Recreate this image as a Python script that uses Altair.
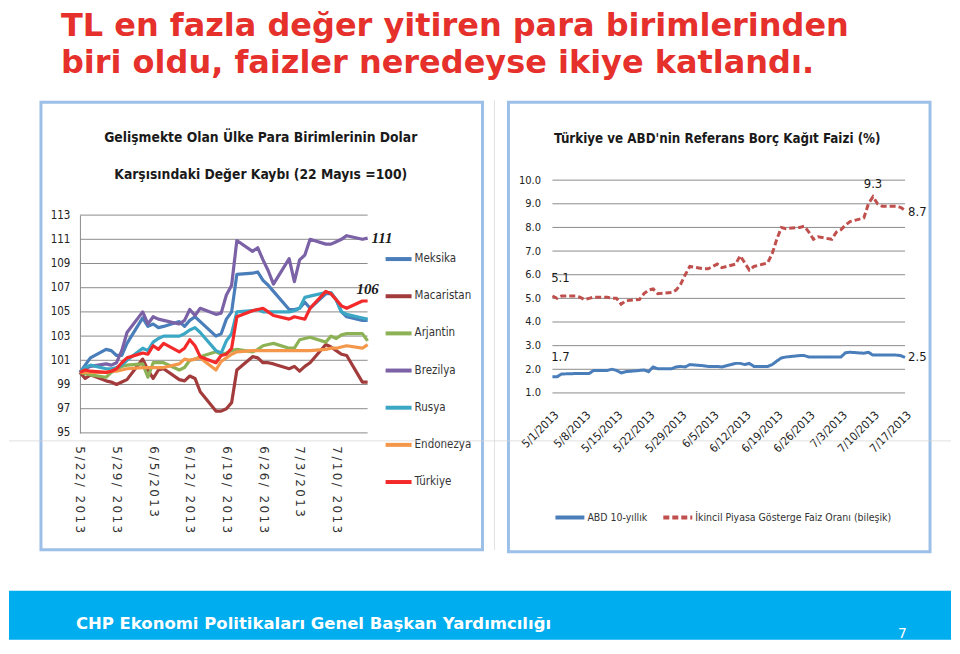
import altair as alt
import pandas as pd

NARROW = "Liberation Sans Narrow, DejaVu Sans Condensed, Arial Narrow, sans-serif"
BOLD_SANS = "DejaVu Sans"

# ---------------- texts ----------------
slide_title = ["TL en fazla değer yitiren para birimlerinden",
               "biri oldu, faizler neredeyse ikiye katlandı."]
footer_text = "CHP Ekonomi Politikaları Genel Başkan Yardımcılığı"
page_no = "7"
left_title = ["Gelişmekte Olan Ülke Para Birimlerinin Dolar",
              "Karşısındaki Değer Kaybı (22 Mayıs =100)"]
right_title = "Türkiye ve ABD'nin Referans Borç Kağıt Faizi (%)"

# ---------------- left chart data ----------------
left_series = ["Meksika", "Macaristan", "Arjantin", "Brezilya", "Rusya", "Endonezya", "Türkiye"]
left_colors = ["#4a7ebb", "#a23b3b", "#8db255", "#7b62a7", "#3ca7c4", "#f4974a", "#f42a2a"]
left_start, left_end = "2013-05-22", "2013-07-16"
left_tick_dates = ["2013-05-22", "2013-05-29", "2013-06-05", "2013-06-12",
                   "2013-06-19", "2013-06-26", "2013-07-03", "2013-07-10"]
left_y_ticks = [95, 97, 99, 101, 103, 105, 107, 109, 111, 113]

meksika = [100.0, 100.6, 101.2, 101.9, 101.8, 101.4, 101.4, 102.4, 104.5, 103.8,
           104.0, 103.7, 103.8, 104.2, 103.8, 104.3, 104.6, 104.2, 103.0, 103.2,
           104.4, 105.0, 108.1, 108.2, 108.3, 107.6, 107.2, 106.7, 105.2, 105.2,
           105.3, 105.8, 105.3, 106.5, 106.5, 106.0, 105.0, 104.6, 104.3, 104.3]
macaristan = [100.0, 99.5, 99.8, 99.3, 99.2, 99.0, 99.2, 99.4, 101.1, 100.2,
              99.5, 100.2, 100.3, 99.4, 99.3, 99.7, 99.5, 98.4, 96.8, 96.8,
              97.0, 97.5, 100.2, 101.3, 101.2, 100.8, 100.8, 100.7, 100.3, 100.5,
              100.1, 100.5, 100.8, 102.3, 102.1, 101.8, 101.5, 101.4, 99.2, 99.2]
arjantin = [100.0, 99.9, 99.8, 99.6, 100.0, 100.2, 100.5, 100.6, 100.7, 99.6,
            100.8, 100.8, 100.8, 100.2, 100.4, 101.0, 101.1, 101.3, 101.7, 101.5,
            101.6, 101.8, 101.9, 101.7, 101.9, 102.2, 102.3, 102.4, 102.0, 102.0,
            102.7, 102.8, 102.9, 102.5, 103.0, 102.8, 103.1, 103.2, 103.2, 102.6]
brezilya = [100.0, 100.3, 100.5, 100.7, 100.6, 100.8, 101.8, 103.3, 105.0, 104.0,
            104.6, 104.4, 104.3, 104.0, 104.3, 105.2, 104.7, 105.3, 104.8, 104.9,
            106.4, 107.2, 110.9, 110.0, 110.3, 109.3, 108.4, 107.3, 109.4, 107.5,
            109.3, 109.7, 111.0, 110.6, 110.6, 110.8, 111.0, 111.3, 111.0, 111.1]
rusya = [100.0, 100.4, 100.6, 100.3, 100.3, 100.4, 100.6, 101.0, 102.0, 101.8,
         102.5, 102.8, 103.0, 103.0, 103.2, 103.5, 103.7, 103.3, 101.8, 101.6,
         102.6, 103.2, 105.0, 105.1, 105.2, 105.0, 105.0, 105.0, 105.0, 105.1,
         105.3, 106.2, 106.3, 106.6, 106.6, 106.0, 105.0, 104.8, 104.5, 104.4]
endonezya = [100.0, 100.0, 100.0, 100.0, 100.1, 100.1, 100.2, 100.3, 100.4, 100.4,
             100.4, 100.4, 100.4, 100.7, 101.1, 101.0, 101.1, 101.2, 100.2, 100.9,
             101.2, 101.5, 101.7, 101.8, 101.8, 101.8, 101.8, 101.8, 101.8, 101.8,
             101.8, 101.8, 101.8, 101.9, 102.0, 102.0, 102.1, 102.2, 102.0, 102.3]
turkiye = [100.0, 100.2, 100.1, 100.0, 100.1, 100.3, 100.8, 101.2, 101.6, 101.5,
           102.2, 101.9, 102.4, 101.7, 102.0, 102.7, 102.2, 101.3, 100.8, 101.4,
           101.5, 102.0, 104.6, 105.1, 105.2, 105.3, 105.0, 104.7, 104.4, 104.6,
           104.5, 104.4, 105.3, 106.7, 106.5, 106.0, 105.5, 105.3, 105.9, 105.9]
left_values = dict(zip(left_series, [meksika, macaristan, arjantin, brezilya,
                                     rusya, endonezya, turkiye]))

# ---------------- right chart data ----------------
right_series = ["ABD 10-yıllık", "İkincil Piyasa Gösterge Faiz Oranı (bileşik)"]
right_colors = ["#4a7ebb", "#c0504d"]
right_dashes = [[1, 0], [6, 3]]
right_start, right_end = "2013-05-01", "2013-07-17"
right_tick_dates = ["2013-05-01", "2013-05-08", "2013-05-15", "2013-05-22", "2013-05-29",
                    "2013-06-05", "2013-06-12", "2013-06-19", "2013-06-26", "2013-07-03",
                    "2013-07-10", "2013-07-17"]
right_y_ticks = [1, 2, 3, 4, 5, 6, 7, 8, 9, 10]
abd = [1.68, 1.68, 1.8, 1.82, 1.82, 1.82, 1.82, 1.95, 1.95, 2.0,
       1.95, 1.85, 1.9, 1.95, 1.97, 1.9, 2.1, 2.02, 2.02, 2.1,
       2.12, 2.1, 2.2, 2.15, 2.12, 2.12, 2.12, 2.1, 2.25, 2.25,
       2.2, 2.25, 2.12, 2.12, 2.2, 2.35, 2.48, 2.52, 2.58, 2.58,
       2.52, 2.52, 2.52, 2.52, 2.52, 2.52, 2.7, 2.72, 2.68, 2.72,
       2.6, 2.6, 2.6, 2.6, 2.58, 2.5]
ikincil = [5.1, 5.0, 5.1, 5.1, 5.05, 4.95, 5.0, 5.05, 5.05, 5.0,
           5.0, 4.75, 4.9, 4.95, 5.2, 5.35, 5.4, 5.2, 5.25, 5.35,
           5.6, 6.0, 6.35, 6.25, 6.25, 6.35, 6.45, 6.3, 6.45, 6.8,
           6.5, 6.2, 6.35, 6.5, 6.9, 7.5, 8.0, 7.95, 8.0, 8.05,
           7.8, 7.5, 7.6, 7.5, 7.8, 7.9, 8.1, 8.25, 8.4, 9.0,
           9.3, 9.0, 8.9, 8.9, 8.85, 8.72]
right_values = dict(zip(right_series, [abd, ikincil]))


def dt(s):
    y, m, d = map(int, s.split("-"))
    return alt.DateTime(year=y, month=m, date=d)


def fmt(d):
    return d.strftime("%Y/%m/%d")


left_dates = pd.bdate_range(left_start, left_end)
right_dates = pd.bdate_range(right_start, right_end)

left_df = pd.DataFrame([{"date": fmt(d), "series": s, "value": v}
                        for s in left_series for d, v in zip(left_dates, left_values[s])])
right_df = pd.DataFrame([{"date": fmt(d), "series": s, "value": v}
                         for s in right_series for d, v in zip(right_dates, right_values[s])])
left_grid_df = pd.DataFrame({"value": [float(v) for v in left_y_ticks]})
right_grid_df = pd.DataFrame({"value": [float(v) for v in right_y_ticks]})

one = pd.DataFrame({"k": [0]})

# ---------------- layout constants (pixels) ----------------
LW, LH = 288, 253
RW, RH = 353, 213
GAP = 185
GRID = "#8c8c8c"
THIN = "\u2009"


def txt(text, x, y, **kw):
    return alt.Chart(one).mark_text(**kw).encode(
        x=alt.value(x), y=alt.value(y), text=alt.value(text))


def box(x, x2, y, y2, **kw):
    return alt.Chart(one).mark_rect(**kw).encode(
        x=alt.value(x), x2=alt.value(x2), y=alt.value(y), y2=alt.value(y2))


# ---------------- left panel ----------------
anchor = box(-71, 872, -172, 460, fill="white", fillOpacity=0)
footer_band = box(-71, 872, 411, 460, fill="#00adef")
footer_lbl = txt(footer_text, -4, 449, align="left", baseline="alphabetic",
                 font=BOLD_SANS, fontWeight="bold", fontSize=16.5, color="white")
page_lbl = txt(page_no, 819, 458, align="left", baseline="alphabetic",
               font=BOLD_SANS, fontSize=14, color="white")
t1 = txt(slide_title[0], -19, -144, align="left", baseline="alphabetic",
         font=BOLD_SANS, fontWeight="bold", fontSize=32, color="#e5302c")
t2 = txt(slide_title[1], -19, -107, align="left", baseline="alphabetic",
         font=BOLD_SANS, fontWeight="bold", fontSize=32, color="#e5302c")
left_box = box(-39, 403, -78, 370, fill="white", fillOpacity=0,
               stroke="#9cc0e8", strokeWidth=3)
lt1 = txt(left_title[0], 181, -42, align="center", baseline="middle",
          font=NARROW, fontWeight="bold", fontSize=13.8, color="#1a1a1a")
lt2 = txt(left_title[1], 181, -5, align="center", baseline="middle",
          font=NARROW, fontWeight="bold", fontSize=13.8, color="#1a1a1a")

left_label_expr = (
    "join(split(timeFormat(datum.value, '%-m/%-d/') + "
    "(length(timeFormat(datum.value, '%-d')) > 1 ? ' ' : '') + "
    "timeFormat(datum.value, '%Y'), ''), '" + THIN + "')"
)
left_x = alt.X("date:T",
               scale=alt.Scale(domain=[dt(left_start), dt(left_end)], nice=False),
               axis=alt.Axis(values=[dt(s) for s in left_tick_dates], tickCount=30,
                             labelExpr=left_label_expr, labelOverlap=False,
                             labelAngle=90, grid=False, domain=False, ticks=False,
                             labelPadding=13, labelFont="DejaVu Sans", labelFontSize=12,
                             labelColor="#333", title=None))
left_y_scale = alt.Scale(domain=[95, 113], range=[LH, 35], nice=False, zero=False)
left_y_axis = alt.Axis(values=left_y_ticks, tickCount=30, format="d",
                       labelOverlap=False, grid=False, domain=True,
                       domainColor=GRID, ticks=False,
                       labelPadding=10, labelFont=NARROW, labelFontSize=11.5,
                       labelColor="#222", title=None)
left_y = alt.Y("value:Q", scale=left_y_scale, axis=left_y_axis)

left_grid = alt.Chart(left_grid_df).mark_rule(color=GRID, strokeWidth=1).encode(
    y=alt.Y("value:Q", scale=left_y_scale, axis=left_y_axis),
    x=alt.value(0), x2=alt.value(LW))

left_lines = alt.Chart(left_df).mark_line(strokeWidth=3.2, strokeJoin="round").encode(
    x=left_x, y=left_y,
    color=alt.Color("series:N", sort=left_series,
                    scale=alt.Scale(domain=left_series, range=left_colors),
                    legend=alt.Legend(title=None, orient="none", legendX=304, legendY=64,
                                      direction="vertical", symbolType="stroke",
                                      symbolSize=676, symbolStrokeWidth=4, rowPadding=14.2,
                                      labelOffset=1, labelFont=NARROW, labelFontSize=11.5,
                                      labelColor="#333", padding=0, labelLimit=200)),
)

last_left = fmt(left_dates[-1])
lab111 = alt.Chart(pd.DataFrame([{"date": last_left, "value": brezilya[-1],
                                  "label": f"{round(brezilya[-1])}"}])).mark_text(
    align="left", baseline="middle", dx=4, font="Liberation Serif",
    fontStyle="italic", fontWeight="bold", fontSize=15, color="#1a1a1a").encode(
    x="date:T", y=alt.Y("value:Q", axis=left_y_axis), text="label:N")
lab106 = alt.Chart(pd.DataFrame([{"date": last_left, "value": turkiye[-1],
                                  "label": f"{round(turkiye[-1])}"}])).mark_text(
    align="center", baseline="middle", dy=-12, font="Liberation Serif",
    fontStyle="italic", fontWeight="bold", fontSize=15, color="#1a1a1a").encode(
    x="date:T", y=alt.Y("value:Q", axis=left_y_axis), text="label:N")

left = alt.layer(anchor, footer_band, footer_lbl, page_lbl, t1, t2, left_box, lt1, lt2,
                 left_grid, left_lines, lab111, lab106).properties(width=LW, height=LH)

# ---------------- right panel ----------------
right_box = box(-44, 378, -78, 372, fill="white", fillOpacity=0,
                stroke="#9cc0e8", strokeWidth=3)
rt = txt(right_title, 165, -41, align="center", baseline="middle",
         font=NARROW, fontWeight="bold", fontSize=13.3, color="#1a1a1a")

right_x = alt.X("date:T",
                scale=alt.Scale(domain=[dt(right_start), dt(right_end)], nice=False),
                axis=alt.Axis(values=[dt(s) for s in right_tick_dates], tickCount=30,
                              format="%-m/%-d/%Y", labelOverlap=False,
                              labelAngle=-45, grid=False, domain=False, ticks=False,
                              labelPadding=16, labelFont=NARROW, labelFontSize=11.5,
                              labelColor="#222", title=None))
right_y_scale = alt.Scale(domain=[1, 10], nice=False, zero=False)
right_y_axis = alt.Axis(values=right_y_ticks, tickCount=30, format=".1f",
                        labelOverlap=False, grid=False, domain=False, ticks=False,
                        labelPadding=12, labelFont=NARROW, labelFontSize=11,
                        labelColor="#222", title=None)
right_y = alt.Y("value:Q", scale=right_y_scale, axis=right_y_axis)
right_grid = alt.Chart(right_grid_df).mark_rule(color=GRID, strokeWidth=1).encode(
    y=alt.Y("value:Q", scale=right_y_scale, axis=right_y_axis),
    x=alt.value(0), x2=alt.value(RW))

right_legend = alt.Legend(title=None, orient="none", legendX=1, legendY=321,
                          direction="horizontal", symbolType="stroke", symbolSize=841,
                          symbolStrokeWidth=4, columnPadding=7, labelOffset=1,
                          labelFont=NARROW, labelFontSize=10.5, labelColor="#333",
                          padding=0, labelLimit=300)
right_lines = alt.Chart(right_df).mark_line(strokeWidth=3).encode(
    x=right_x, y=right_y,
    color=alt.Color("series:N", sort=right_series,
                    scale=alt.Scale(domain=right_series, range=right_colors),
                    legend=right_legend),
    strokeDash=alt.StrokeDash("series:N", sort=right_series,
                              scale=alt.Scale(domain=right_series, range=right_dashes),
                              legend=right_legend),
)

first_r = fmt(right_dates[0])
last_r = fmt(right_dates[-1])
peak_i = ikincil.index(max(ikincil))
peak_r = fmt(right_dates[peak_i])


def rlab(date, value, **kw):
    return alt.Chart(pd.DataFrame([{"date": date, "value": value,
                                    "label": f"{value:.1f}"}])).mark_text(
        font=NARROW, fontSize=13, color="#1a1a1a", baseline="middle", **kw).encode(
        x="date:T", y=alt.Y("value:Q", axis=right_y_axis), text="label:N")


r_labels = [
    rlab(first_r, ikincil[0], align="center", dx=8, dy=-18),
    rlab(first_r, abd[0], align="center", dx=8, dy=-20),
    rlab(peak_r, ikincil[peak_i], align="center", dx=0, dy=-13),
    rlab(last_r, ikincil[-1], align="left", dx=3, dy=2),
    rlab(last_r, abd[-1], align="left", dx=3, dy=0),
]

faint_h = alt.Chart(one).mark_rule(color="#d4d4d4", strokeWidth=1, opacity=0.7).encode(
    x=alt.value(-544), x2=alt.value(399), y=alt.value(261))
faint_v = alt.Chart(one).mark_rule(color="#d4d4d4", strokeWidth=1, opacity=0.7).encode(
    x=alt.value(-58), y=alt.value(-80), y2=alt.value(370))

right = alt.layer(right_box, rt, right_grid, right_lines, *r_labels,
                  faint_h, faint_v).properties(width=RW, height=RH)

chart = alt.hconcat(left, right, spacing=GAP, bounds="flush").resolve_scale(
    color="independent", strokeDash="independent").resolve_legend(
    color="independent", strokeDash="independent").properties(
    padding=0, background="white").configure_view(stroke=None)

chart.save("out.html", embed_options={"renderer": "svg", "actions": False})
